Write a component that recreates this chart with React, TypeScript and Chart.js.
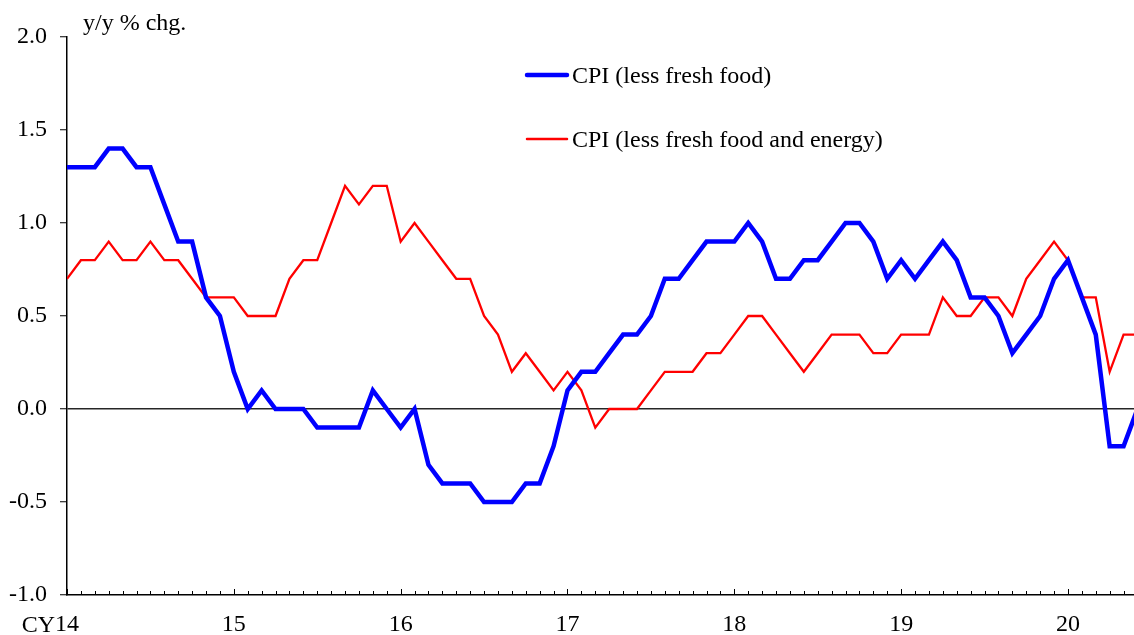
import { useEffect, useRef } from "react";
import { Chart, registerables } from "chart.js";

Chart.register(...registerables);

const FONT = "'Times New Roman', 'Liberation Serif', serif";

// Monthly, Jan 2014 (index 0) to Jun 2020
const yearLabels = ["14", "15", "16", "17", "18", "19", "20"];
const yearTickMonths = [0, 12, 24, 36, 48, 60, 72];
const axisPrefix = "CY";
const axisTitle = "y/y % chg.";
const seriesLabels = ["CPI (less fresh food)", "CPI (less fresh food and energy)"];

const cpiLessFreshFood = [
  1.3, 1.3, 1.3, 1.4, 1.4, 1.3, 1.3, 1.1, 0.9, 0.9, 0.6, 0.5,
  0.2, 0.0, 0.1, 0.0, 0.0, 0.0, -0.1, -0.1, -0.1, -0.1, 0.1, 0.0,
  -0.1, 0.0, -0.3, -0.4, -0.4, -0.4, -0.5, -0.5, -0.5, -0.4, -0.4, -0.2,
  0.1, 0.2, 0.2, 0.3, 0.4, 0.4, 0.5, 0.7, 0.7, 0.8, 0.9, 0.9,
  0.9, 1.0, 0.9, 0.7, 0.7, 0.8, 0.8, 0.9, 1.0, 1.0, 0.9, 0.7,
  0.8, 0.7, 0.8, 0.9, 0.8, 0.6, 0.6, 0.5, 0.3, 0.4, 0.5, 0.7,
  0.8, 0.6, 0.4, -0.2, -0.2, 0.0,
];

const cpiLessFreshFoodEnergy = [
  0.7, 0.8, 0.8, 0.9, 0.8, 0.8, 0.9, 0.8, 0.8, 0.7, 0.6, 0.6,
  0.6, 0.5, 0.5, 0.5, 0.7, 0.8, 0.8, 1.0, 1.2, 1.1, 1.2, 1.2,
  0.9, 1.0, 0.9, 0.8, 0.7, 0.7, 0.5, 0.4, 0.2, 0.3, 0.2, 0.1,
  0.2, 0.1, -0.1, 0.0, 0.0, 0.0, 0.1, 0.2, 0.2, 0.2, 0.3, 0.3,
  0.4, 0.5, 0.5, 0.4, 0.3, 0.2, 0.3, 0.4, 0.4, 0.4, 0.3, 0.3,
  0.4, 0.4, 0.4, 0.6, 0.5, 0.5, 0.6, 0.6, 0.5, 0.7, 0.8, 0.9,
  0.8, 0.6, 0.6, 0.2, 0.4, 0.4,
];

const yMin = -1.0;
const yMax = 2.0;
const yStep = 0.5;
const xMax = 76.75;

const overlayPlugin = {
  id: "overlay",
  afterDraw(chart: any) {
    const ctx = chart.ctx;
    const xs = chart.scales.x;
    const area = chart.chartArea;
    ctx.save();
    // monthly minor ticks pointing up into the plot
    ctx.strokeStyle = "#000";
    ctx.lineWidth = 1;
    for (let m = 0; m <= Math.floor(xs.max); m++) {
      const px = Math.round(xs.getPixelForValue(m)) + 0.5;
      const len = m % 12 === 0 ? 6 : 4;
      ctx.beginPath();
      ctx.moveTo(px, area.bottom);
      ctx.lineTo(px, area.bottom - len);
      ctx.stroke();
    }
    // axis title
    ctx.fillStyle = "#000";
    ctx.font = `24px ${FONT}`;
    ctx.textAlign = "left";
    ctx.textBaseline = "alphabetic";
    ctx.fillText(axisTitle, area.left + 16, 30);
    // "CY" prefix before first year label
    const firstPx = xs.getPixelForValue(yearTickMonths[0]);
    const w = ctx.measureText(yearLabels[0]).width;
    ctx.textAlign = "right";
    ctx.fillText(axisPrefix, firstPx - w / 2, 632);
    // legend
    const rows = [75, 139];
    chart.data.datasets.forEach((ds: any, i: number) => {
      const y = rows[i];
      ctx.strokeStyle = ds.borderColor;
      ctx.lineWidth = i === 0 ? 4.5 : 2.5;
      ctx.lineCap = "round";
      ctx.beginPath();
      ctx.moveTo(527, y);
      ctx.lineTo(567, y);
      ctx.stroke();
      ctx.fillStyle = "#000";
      ctx.textAlign = "left";
      ctx.fillText(ds.label, 572, y + 8);
    });
    ctx.restore();
  },
};

export default function App() {
  const ref = useRef<HTMLCanvasElement | null>(null);
  useEffect(() => {
    if (!ref.current) return;
    const chart = new Chart(ref.current, {
      type: "line",
      data: {
        datasets: [
          {
            label: seriesLabels[0],
            data: cpiLessFreshFood.map((v, i) => ({ x: i, y: v })),
            borderColor: "#0000FF",
            borderWidth: 4.5,
            pointRadius: 0,
            tension: 0,
            fill: false,
          },
          {
            label: seriesLabels[1],
            data: cpiLessFreshFoodEnergy.map((v, i) => ({ x: i, y: v })),
            borderColor: "#FF0000",
            borderWidth: 2.3,
            pointRadius: 0,
            tension: 0,
            fill: false,
          },
        ],
      },
      options: {
        animation: false,
        responsive: false,
        maintainAspectRatio: false,
        layout: { padding: { top: 37, right: 0, bottom: 0, left: 0 } },
        plugins: {
          legend: { display: false },
          tooltip: { enabled: false },
          title: { display: false },
        },
        scales: {
          x: {
            type: "linear",
            min: 0,
            max: xMax,
            afterFit: (s: any) => {
              s.height = 40;
            },
            afterBuildTicks: (s: any) => {
              s.ticks = yearTickMonths.map((v) => ({ value: v }));
            },
            grid: { drawOnChartArea: false, drawTicks: false, color: "rgba(0,0,0,0)" },
            border: { display: true, color: "#000", width: 1.5 },
            ticks: {
              color: "#000",
              font: { family: FONT, size: 24 },
              padding: 15,
              maxRotation: 0,
              autoSkip: false,
              callback: (v: any) => yearLabels[yearTickMonths.indexOf(Number(v))] ?? "",
            },
          },
          y: {
            min: yMin,
            max: yMax,
            afterFit: (s: any) => {
              s.width = 67;
            },
            grid: {
              drawOnChartArea: true,
              drawTicks: true,
              tickLength: 7,
              tickColor: "#000",
              tickWidth: 1,
              lineWidth: 1.5,
              color: (c: any) => (c.tick && c.tick.value === 0 ? "#262626" : "rgba(0,0,0,0)"),
            },
            border: { display: true, color: "#000", width: 1.5 },
            ticks: {
              stepSize: yStep,
              color: "#000",
              padding: 13,
              font: { family: FONT, size: 24 },
              callback: (v: any) => Number(v).toFixed(1),
            },
          },
        },
      },
      plugins: [overlayPlugin],
    });
    return () => chart.destroy();
  }, []);
  return (
    <div style={{ position: "absolute", left: 0, top: 0, width: 1134, height: 635, background: "#fff" }}>
      <canvas ref={ref} width={1134} height={635} style={{ width: 1134, height: 635 }} />
    </div>
  );
}
